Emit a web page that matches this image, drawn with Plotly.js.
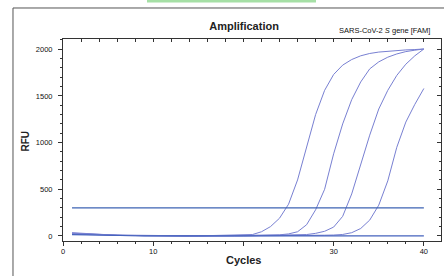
<!DOCTYPE html>
<html>
<head>
<meta charset="utf-8">
<script src="https://cdn.plot.ly/plotly-3.0.1.min.js"></script>
<style>html,body{margin:0;padding:0;background:#fff;}#chart{width:444px;height:276px;}</style>
</head>
<body>
<div id="chart"></div>
<script>
// ---- data ----
var cycles = [1,2,3,4,5,6,7,8,9,10,11,12,13,14,15,16,17,18,19,20,21,22,23,24,25,26,27,28,29,30,31,32,33,34,35,36,37,38,39,40];
var sample1 = [35,28,22,17,13,10,8,6,5,4,3,2,2,1,1,2,3,4,6,9,15,45,100,190,340,600,960,1300,1560,1730,1830,1890,1930,1955,1970,1980,1987,1993,1997,2003];
var sample2 = [30,24,19,15,11,8,6,4,3,2,1,0,0,-1,-1,0,0,1,2,3,4,5,7,12,22,45,120,280,500,880,1200,1460,1650,1790,1865,1915,1950,1975,1990,2003];
var sample3 = [25,20,16,12,9,7,5,3,2,1,0,0,-1,-1,-2,-1,0,0,1,1,2,3,4,5,7,10,15,28,50,95,210,450,760,1080,1360,1560,1720,1840,1930,2003];
var sample4 = [20,16,13,10,8,6,4,3,2,1,0,-1,-1,-2,-2,-1,-1,0,0,1,1,2,2,3,3,4,5,6,8,10,16,35,80,170,330,590,950,1220,1410,1580];
var negative = [15,12,9,7,5,4,3,2,1,0,0,-1,-1,-2,-2,-1,0,0,1,1,2,2,3,3,4,4,5,5,6,6,7,7,8,8,8,7,5,3,1,0];
var threshold = 300;
var xTickVals = [0,10,20,30,40];
var xTickText = ['0','10','','30','40'];
var yTickVals = [0,500,1000,1500,2000];
var yTickText = ['0','500','1000','1500','2000'];

var curveColor = '#7880d2';
var traces = [];
[sample1, sample2, sample3, sample4].forEach(function(s){
  traces.push({x: cycles, y: s, type: 'scatter', mode: 'lines', line: {color: curveColor, width: 1}, hoverinfo: 'skip'});
});
traces.push({x: cycles, y: negative, type: 'scatter', mode: 'lines', line: {color: '#4563bd', width: 1.2}, hoverinfo: 'skip'});
traces.push({x: [cycles[0], cycles[cycles.length-1]], y: [threshold, threshold], type: 'scatter', mode: 'lines', line: {color: '#3d63b3', width: 1.3}, hoverinfo: 'skip'});
// dummy trace to activate mirrored axes
traces.push({x: [null], y: [null], xaxis: 'x2', yaxis: 'y2', type: 'scatter', mode: 'lines', hoverinfo: 'skip', showlegend: false});

var tickFont = {family: 'Liberation Sans, Arial, sans-serif', size: 7.5, color: '#111'};
var xr = [0, 41.9], yr = [-54, 2110];

var layout = {
  width: 444, height: 276,
  margin: {l: 63, r: 3, t: 39, b: 35},
  paper_bgcolor: '#fff', plot_bgcolor: '#fff',
  showlegend: false, hovermode: false,
  title: {text: '<b>Amplification</b>', font: {family: 'Liberation Sans, Arial, sans-serif', size: 11, color: '#222'},
          xref: 'paper', x: 0.479, xanchor: 'center', yref: 'container', y: 0.906, yanchor: 'middle'},
  xaxis: {range: xr, showgrid: false, zeroline: false, showline: true, linecolor: '#333', linewidth: 1,
          tickmode: 'array', tickvals: xTickVals, ticktext: xTickText, ticks: 'outside', ticklen: 4, tickcolor: '#333',
          tickfont: tickFont, ticklabelstandoff: -1,
          minor: {dtick: 2, ticks: 'outside', ticklen: 2, tickcolor: '#333'}},
  yaxis: {range: yr, showgrid: false, zeroline: false, showline: true, linecolor: '#333', linewidth: 1,
          tickmode: 'array', tickvals: yTickVals, ticktext: yTickText, ticks: 'outside', ticklen: 4, tickcolor: '#333',
          tickfont: tickFont, ticklabelstandoff: 4,
          minor: {dtick: 100, ticks: 'outside', ticklen: 2, tickcolor: '#333'}},
  xaxis2: {range: xr, overlaying: 'x', side: 'top', anchor: 'y2', showgrid: false, zeroline: false, showline: true,
           linecolor: '#333', linewidth: 1, dtick: 2, tick0: 0, ticks: 'inside', ticklen: 3, tickcolor: '#333', showticklabels: false},
  yaxis2: {range: yr, overlaying: 'y', side: 'right', anchor: 'x2', showgrid: false, zeroline: false, showline: true,
           linecolor: '#333', linewidth: 1, tickmode: 'array', tickvals: yTickVals, ticks: 'inside', ticklen: 4, tickcolor: '#333',
           showticklabels: false, minor: {dtick: 100, ticks: 'inside', ticklen: 2, tickcolor: '#333'}},
  annotations: [
    {text: 'SARS-CoV-2 <i>S</i> gene [FAM]', xref: 'paper', yref: 'paper', x: 0.976, y: 1.042, xanchor: 'right', yanchor: 'middle',
     showarrow: false, font: {family: 'Liberation Sans, Arial, sans-serif', size: 7.5, color: '#111'}},
    {text: '<b>RFU</b>', xref: 'paper', yref: 'paper', x: -0.0979, y: 0.4975, xanchor: 'center', yanchor: 'middle', textangle: -90,
     showarrow: false, font: {family: 'Liberation Sans, Arial, sans-serif', size: 10, color: '#222'}},
    {text: '<b>Cycles</b>', xref: 'paper', yref: 'paper', x: 0.4775, y: -0.0965, xanchor: 'center', yanchor: 'middle',
     showarrow: false, font: {family: 'Liberation Sans, Arial, sans-serif', size: 11, color: '#222'}}
  ],
  shapes: [
    {type: 'rect', xref: 'paper', yref: 'paper', x0: -0.1323, x1: 1.05, y0: -0.3, y1: 1.1535, line: {color: '#555', width: 1}, fillcolor: 'rgba(0,0,0,0)', layer: 'below'},
    {type: 'rect', xref: 'paper', yref: 'paper', x0: 0.2222, x1: 0.6693, y0: 1.181, y1: 1.21, line: {width: 0}, fillcolor: '#a6e0a6'}
  ]
};

Plotly.newPlot('chart', traces, layout, {staticPlot: true, displayModeBar: false});
</script>
</body>
</html>
